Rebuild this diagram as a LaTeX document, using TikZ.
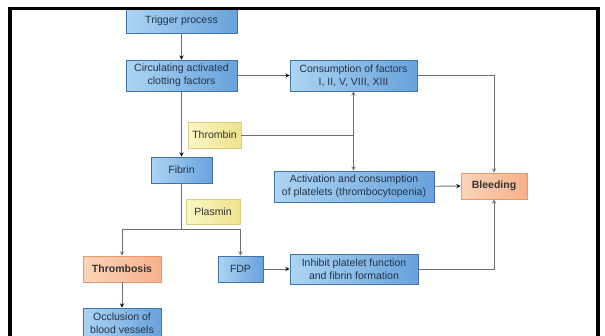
\documentclass[tikz,border=0pt]{standalone}
\usepackage{fontspec}
\setmainfont{Liberation Sans}
\usetikzlibrary{positioning}
\definecolor{bluebox}{RGB}{172,212,242}
\definecolor{bluedark}{RGB}{104,162,220}
\definecolor{blueline}{RGB}{66,114,172}
\definecolor{yelbox}{RGB}{250,246,196}
\definecolor{yeldark}{RGB}{238,226,140}
\definecolor{yelline}{RGB}{218,206,130}
\definecolor{orabox}{RGB}{252,212,186}
\definecolor{oradark}{RGB}{246,176,138}
\definecolor{oraline}{RGB}{236,150,106}
\definecolor{txt}{RGB}{36,50,72}
\definecolor{conn}{RGB}{110,110,110}
\begin{document}
\begin{tikzpicture}[x=1pt,y=-1pt,
		box/.style={draw=blueline,line width=0.8pt,left color=bluebox,right color=bluedark,
			align=center,inner sep=0pt,text=txt,font=\fontsize{10.5}{13}\selectfont},
		yelbox/.style={box,draw=yelline,left color=yelbox,right color=yeldark,text=black!80},
		orabox/.style={box,draw=oraline,left color=orabox,right color=oradark,text=black!80,
			font=\fontsize{10.5}{13}\selectfont\bfseries},
		link/.style={draw=conn,line width=0.9pt,-stealth}]
		\useasboundingbox (0,0) rectangle (605,335);
		\node[box,minimum width=111pt,minimum height=25pt] (trig) at (181.5,20.5) {Trigger process};
		\node[box,minimum width=111pt,minimum height=31pt] (circ) at (181.5,75.5) {Circulating activated\\clotting factors};
		\node[box,minimum width=127pt,minimum height=31pt] (cons) at (353.5,75.5) {Consumption of factors\\I, II, V, VIII, XIII};
		\node[yelbox,minimum width=53pt,minimum height=26pt] (thrombin) at (214.5,135) {Thrombin};
		\node[box,minimum width=61pt,minimum height=26pt] (fibrin) at (181.5,170) {Fibrin};
		\node[box,minimum width=160pt,minimum height=31pt] (activ) at (354,186.5) {Activation and consumption\\of platelets (thrombocytopenia)};
		\node[orabox,minimum width=66pt,minimum height=26pt] (bleed) at (494,186) {Bleeding};
		\node[yelbox,minimum width=54pt,minimum height=25pt] (plasmin) at (213,211.5) {Plasmin};
		\node[orabox,minimum width=78pt,minimum height=26pt] (thrombosis) at (122,269) {Thrombosis};
		\node[box,minimum width=45pt,minimum height=26pt] (fdp) at (240.5,269) {FDP};
		\node[box,minimum width=128pt,minimum height=30pt] (inhib) at (354,269) {Inhibit platelet function\\and fibrin formation};
		\node[box,minimum width=78pt,minimum height=31pt] (occl) at (122,323.5) {Occlusion of\\blood vessels};
		\coordinate (tj) at (cons.south |- thrombin.east);
		\coordinate (split) at (181.5,229);
		\path[link]
		(trig) edge (circ)
		(circ) edge (cons)
		(circ) edge (fibrin)
		(activ) edge (bleed)
		(thrombosis) edge (occl)
		(fdp) edge (inhib);
		\draw[draw=conn,line width=0.9pt] (thrombin.east) -- (tj);
		\draw[link] (tj) -- (cons.south);
		\draw[link] (tj) -- (activ.north -| tj);
		\draw[draw=conn,line width=0.9pt] (fibrin.south) -- (split);
		\draw[link] (split) -| (thrombosis.north);
		\draw[link] (split) -| (fdp.north);
		\draw[link] (cons.east) -| (bleed.north);
		\draw[link] (inhib.east) -| (bleed.south);
		\draw[line width=3.5pt] (10,340) -- (10,8.5) -- (598,8.5) -- (598,340);
\end{tikzpicture}
\end{document}
